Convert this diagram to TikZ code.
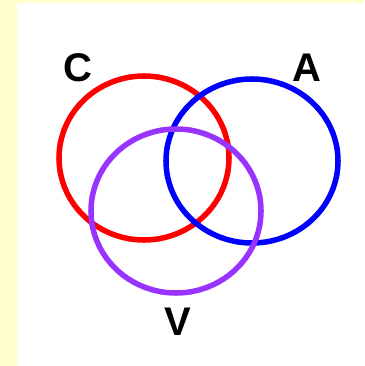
\documentclass[tikz,border=0pt]{standalone}
\usepackage{fontspec}
\usetikzlibrary{calc}
\setmainfont{Liberation Sans}
\definecolor{bgyellow}{HTML}{FFFFCC}
\definecolor{vpurple}{HTML}{9933FF}
\begin{document}
\begin{tikzpicture}[x=1pt,y=-1pt,
  venn/.style={line width=5.5pt, line cap=round},
  lbl/.style={font=\fontsize{40}{40}\selectfont\bfseries, inner sep=0pt}]
\useasboundingbox (0,0) rectangle (364,366);
\fill[bgyellow] (0,0) rectangle (364,366);
\fill[white] (17,3) rectangle (364,366);
\coordinate (cC) at (144,158);
\coordinate (cA) at (252,161);
\coordinate (cV) at (176,211);
\foreach \a in {0,10,...,350}{
  \draw[venn, red] ($(cC)+(\a:85 and 82)$) arc[start angle=\a, delta angle=10, x radius=85, y radius=82];
}
\foreach \a in {0,10,...,350}{
  \draw[venn, blue] ($(cA)+(\a:86 and 82)$) arc[start angle=\a, delta angle=10, x radius=86, y radius=82];
}
\foreach \a in {0,10,...,350}{
  \draw[venn, vpurple] ($(cV)+(\a:85 and 82)$) arc[start angle=\a, delta angle=10, x radius=85, y radius=82];
}
\node[lbl] (C) at (78,68) {C};
\node[lbl] (A) at (307,68) {A};
\node[lbl] (V) at (178,322) {V};
\end{tikzpicture}
\end{document}
